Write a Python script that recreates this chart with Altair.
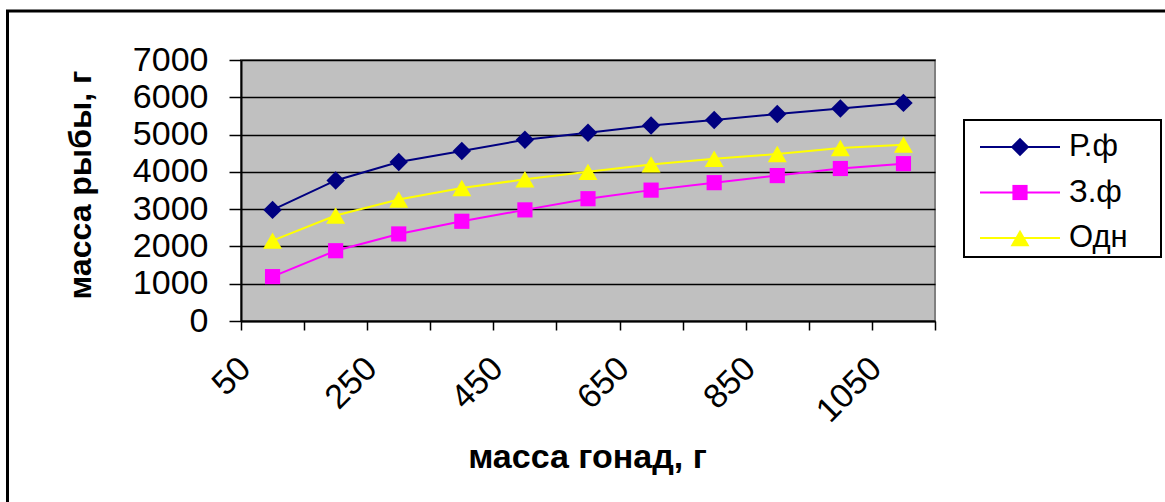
import altair as alt
import pandas as pd

# ---- data ----
gonad_mass = [50, 150, 250, 350, 450, 550, 650, 750, 850, 950, 1050]
series_names = ["Р.ф", "З.ф", "Одн"]
rf_mass = [2980, 3770, 4265, 4560, 4860, 5050, 5245, 5390, 5550, 5700, 5850]
zf_mass = [1190, 1885, 2335, 2675, 2980, 3280, 3510, 3710, 3900, 4090, 4220]
odn_mass = [2155, 2830, 3260, 3565, 3800, 4000, 4200, 4350, 4480, 4640, 4730]

x_tick_values = [0, 100, 200, 300, 400, 500, 600, 700, 800, 900, 1000, 1100]
x_tick_labels = ["50", "", "250", "", "450", "", "650", "", "850", "", "1050", ""]
y_tick_values = [0, 1000, 2000, 3000, 4000, 5000, 6000, 7000]

series_colors = ["#000080", "#FF00FF", "#FFFF00"]
series_shapes = ["diamond", "square", "triangle-up"]
series_sizes = [340, 230, 360]

rows = []
for name, vals in zip(series_names, [rf_mass, zf_mass, odn_mass]):
    for g, v in zip(gonad_mass, vals):
        rows.append({"gonad": g, "fish": v, "series": name})
df = pd.DataFrame(rows)
legend_df = pd.DataFrame({"series": series_names})

FONT = "Liberation Sans"

label_expr = (
    "[" + ",".join(f"'{t}'" for t in x_tick_labels) + "]"
    + "[indexof([" + ",".join(str(v) for v in x_tick_values) + "], datum.value)]"
)

x_enc = alt.X(
    "gonad:Q",
    scale=alt.Scale(domain=[0, 1100], nice=False, zero=False),
    axis=alt.Axis(
        values=x_tick_values,
        labelExpr=label_expr,
        grid=False,
        domainColor="black",
        domainWidth=2,
        tickColor="black",
        tickSize=9,
        tickWidth=1.5,
        labelAngle=315,
        labelAlign="right",
        labelBaseline="middle",
        labelPadding=33,
        labelOffset=4,
        labelFont=FONT,
        labelFontSize=34,
        labelColor="black",
        labelOverlap=False,
        labelFlush=False,
        title="масса гонад, г",
        titleFont=FONT,
        titleFontSize=34,
        titleFontWeight="bold",
        titleColor="black",
        titleX=346,
        titleY=146,
        titleAlign="center",
        titleBaseline="alphabetic",
    ),
)

y_enc = alt.Y(
    "fish:Q",
    scale=alt.Scale(domain=[0, 7000], nice=False),
    axis=alt.Axis(
        values=y_tick_values,
        format="d",
        grid=True,
        gridColor="black",
        gridWidth=1.5,
        domainColor="black",
        domainWidth=2,
        tickColor="black",
        tickSize=12,
        tickWidth=1.5,
        labelFont=FONT,
        labelFontSize=34,
        labelColor="black",
        labelPadding=21,
        labelFlush=False,
        labelOverlap=False,
        title="масса рыбы, г",
        titleFont=FONT,
        titleFontSize=32,
        titleFontWeight="bold",
        titleColor="black",
        titleAngle=270,
        titleX=-161,
        titleY=124.5,
        titleAlign="center",
        titleBaseline="middle",
    ),
)

color_enc = alt.Color(
    "series:N", scale=alt.Scale(domain=series_names, range=series_colors), legend=None
)
shape_enc = alt.Shape(
    "series:N", scale=alt.Scale(domain=series_names, range=series_shapes), legend=None
)
size_enc = alt.Size(
    "series:N",
    scale=alt.Scale(type="ordinal", domain=series_names, range=series_sizes),
    legend=None,
)

lines = alt.Chart(df).mark_line(strokeWidth=2).encode(
    x=x_enc, y=y_enc, color=color_enc, detail="series:N"
)
points = alt.Chart(df).mark_point(filled=True, opacity=1).encode(
    x=x_enc, y=y_enc, color=color_enc, shape=shape_enc, size=size_enc
)
main = alt.layer(lines, points)

# ---- legend drawn in the chart (box, sample lines, markers, labels) ----
leg_y = alt.Y(
    "series:N",
    scale=alt.Scale(type="point", domain=series_names, range=[87, 178], padding=0),
    axis=None,
)
leg_rule = alt.Chart(legend_df).mark_rule(strokeWidth=2).encode(
    x=alt.value(739), x2=alt.value(819), y=leg_y, color=color_enc
)
leg_pts = alt.Chart(legend_df).mark_point(filled=True, opacity=1).encode(
    x=alt.value(779), y=leg_y, color=color_enc, shape=shape_enc, size=size_enc
)
leg_text = alt.Chart(legend_df).mark_text(
    align="left", baseline="middle", font=FONT, fontSize=31, color="black"
).encode(x=alt.value(828), y=leg_y, text="series:N")
leg = alt.layer(leg_rule, leg_pts, leg_text)

leg_box = alt.Chart(pd.DataFrame({"k": [0]})).mark_rect(
    fill="white", stroke="black", strokeWidth=2
).encode(x=alt.value(723), x2=alt.value(920), y=alt.value(60), y2=alt.value(197))

frame = alt.Chart(pd.DataFrame({"k": [0]})).mark_rect(
    fillOpacity=0, stroke="black", strokeWidth=3
).encode(
    x=alt.value(-233.5),
    x2=alt.value(1200),
    y=alt.value(-49),
    y2=alt.value(700),
)

chart = (
    alt.layer(frame, leg_box, main, leg)
    .resolve_scale(y="independent")
    .properties(
        width=694,
        height=261,
        autosize=alt.AutoSizeParams(type="none"),
        padding={"left": 241, "top": 60, "right": 230, "bottom": 181},
        background="white",
    )
    .configure(font=FONT)
    .configure_view(fill="#C0C0C0", stroke="#808080", strokeWidth=2)
)

chart.save("out.html", embed_options={"renderer": "svg", "actions": False})
